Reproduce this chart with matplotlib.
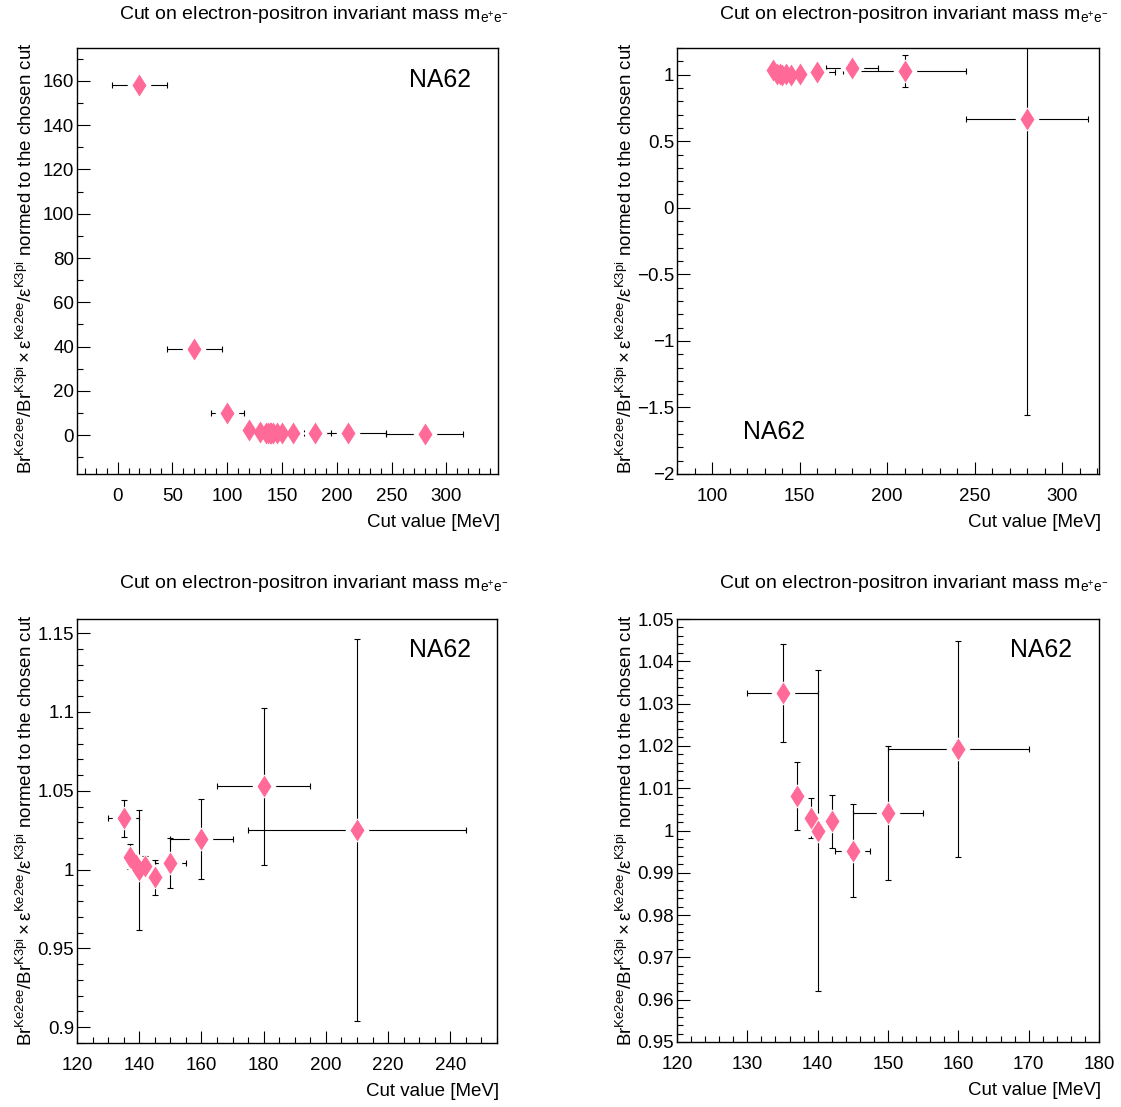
import numpy as np
import matplotlib
matplotlib.use('Agg')
import matplotlib.pyplot as plt
from matplotlib.ticker import MultipleLocator, FuncFormatter

plt.rcParams['font.family'] = ['Liberation Sans', 'DejaVu Sans']
plt.rcParams['mathtext.fontset'] = 'custom'
plt.rcParams['mathtext.rm'] = 'Liberation Sans'
plt.rcParams['mathtext.it'] = 'Liberation Sans:italic'
plt.rcParams['mathtext.bf'] = 'Liberation Sans:bold'

# cut values [MeV] and their (symmetric) widths
cut = np.array([20, 70, 100, 120, 130, 135, 137, 139, 140, 142, 145, 150, 160, 180, 210, 280])
cut_err = np.array([25, 25, 15, 5, 5, 5, 1, 1, 0.5, 1, 2.5, 5, 10, 15, 35, 35])
# ratio normed to the chosen cut (140 MeV)
ratio = np.array([158.2, 38.7, 9.8, 2.4, 1.35, 1.0325, 1.0082, 1.0030, 1.0000,
                  1.0022, 0.9952, 1.0042, 1.0193, 1.0528, 1.0252, 0.67])
ratio_err = np.array([0.7, 0.9, 0.3, 0.08, 0.05, 0.0115, 0.0081, 0.0048, 0.038,
                      0.0063, 0.011, 0.0158, 0.0255, 0.0497, 0.121, 2.23])

title = r'Cut on electron-positron invariant mass m$_{\mathrm{e^{+}e^{-}}}$'
ylab = r'$\mathrm{Br^{Ke2ee}/Br^{K3pi}}\times\mathrm{ε^{Ke2ee}/ε^{K3pi}}$ normed to the chosen cut'
xlab = 'Cut value [MeV]'

W, H = 1121, 1107
fig = plt.figure(figsize=(W / 100, H / 100), dpi=100)


def box(x0, y0, x1, y1):
    return [x0 / W, 1 - y1 / H, (x1 - x0) / W, (y1 - y0) / H]


def fmt(v, pos):
    if abs(v) < 1e-9:
        v = 0
    return f'{round(v, 6):g}'.replace('-', '\u2212')


panels = [
    dict(rect=(77, 48, 498, 474), xlim=(-37, 347), ylim=(-17.6, 174.9),
         xt=(50, 10), yt=(20, 10), na62=(440, 80), title_y=19),
    dict(rect=(677, 48, 1099, 474), xlim=(80, 321), ylim=(-2, 1.2),
         xt=(50, 10), yt=(0.5, 0.1), na62=(774, 432), title_y=19),
    dict(rect=(77, 619, 497, 1043), xlim=(120, 255), ylim=(0.890, 1.159),
         xt=(20, 5), yt=(0.05, 0.01), na62=(440, 650), title_y=588),
    dict(rect=(677, 619, 1099, 1042), xlim=(120, 180), ylim=(0.95, 1.05),
         xt=(10, 2), yt=(0.01, 0.002), na62=(1041, 650), title_y=588),
]

for p in panels:
    x0, y0, x1, y1 = p['rect']
    ax = fig.add_axes(box(*p['rect']))
    # points outside the x range are not drawn at all (as ROOT does)
    m = (cut > p['xlim'][0]) & (cut < p['xlim'][1])
    ax.errorbar(cut[m], ratio[m], xerr=cut_err[m], yerr=ratio_err[m], fmt='none',
                ecolor='black', elinewidth=0.8, capsize=2.2, capthick=0.8, zorder=2)
    ax.plot(cut[m], ratio[m], 'D', ms=12.5, mfc='white', mec='none', zorder=3)
    ax.plot(cut[m], ratio[m], 'd', ms=11.7, mfc='#ff6a99', mec='none', zorder=4)
    ax.set_xlim(*p['xlim'])
    ax.set_ylim(*p['ylim'])
    ax.xaxis.set_major_locator(MultipleLocator(p['xt'][0]))
    ax.xaxis.set_minor_locator(MultipleLocator(p['xt'][1]))
    ax.yaxis.set_major_locator(MultipleLocator(p['yt'][0]))
    ax.yaxis.set_minor_locator(MultipleLocator(p['yt'][1]))
    ax.xaxis.set_major_formatter(FuncFormatter(fmt))
    ax.yaxis.set_major_formatter(FuncFormatter(fmt))
    ax.tick_params(which='both', direction='in', top=False, right=False,
                   labelsize=13.5, width=0.8)
    ax.tick_params(which='major', length=9)
    ax.tick_params(which='minor', length=4.5)
    ax.tick_params(axis='x', pad=10)
    ax.tick_params(axis='y', pad=2)
    for s in ax.spines.values():
        s.set_linewidth(1.0)
    ax.set_xlabel(xlab, fontsize=13.5, loc='right')
    ax.xaxis.set_label_coords(1.006, -0.095)
    ax.set_ylabel(ylab, fontsize=13.5, loc='top')
    ax.yaxis.set_label_coords(-0.097, 1.012)
    nx, ny = p['na62']
    fig.text(nx / W, 1 - ny / H, 'NA62', fontsize=17.8, ha='center', va='center')
    fig.text((x0 + 42) / W, 1 - p['title_y'] / H, title, fontsize=14,
             ha='left', va='baseline')

fig.savefig('out.png', dpi=100)
